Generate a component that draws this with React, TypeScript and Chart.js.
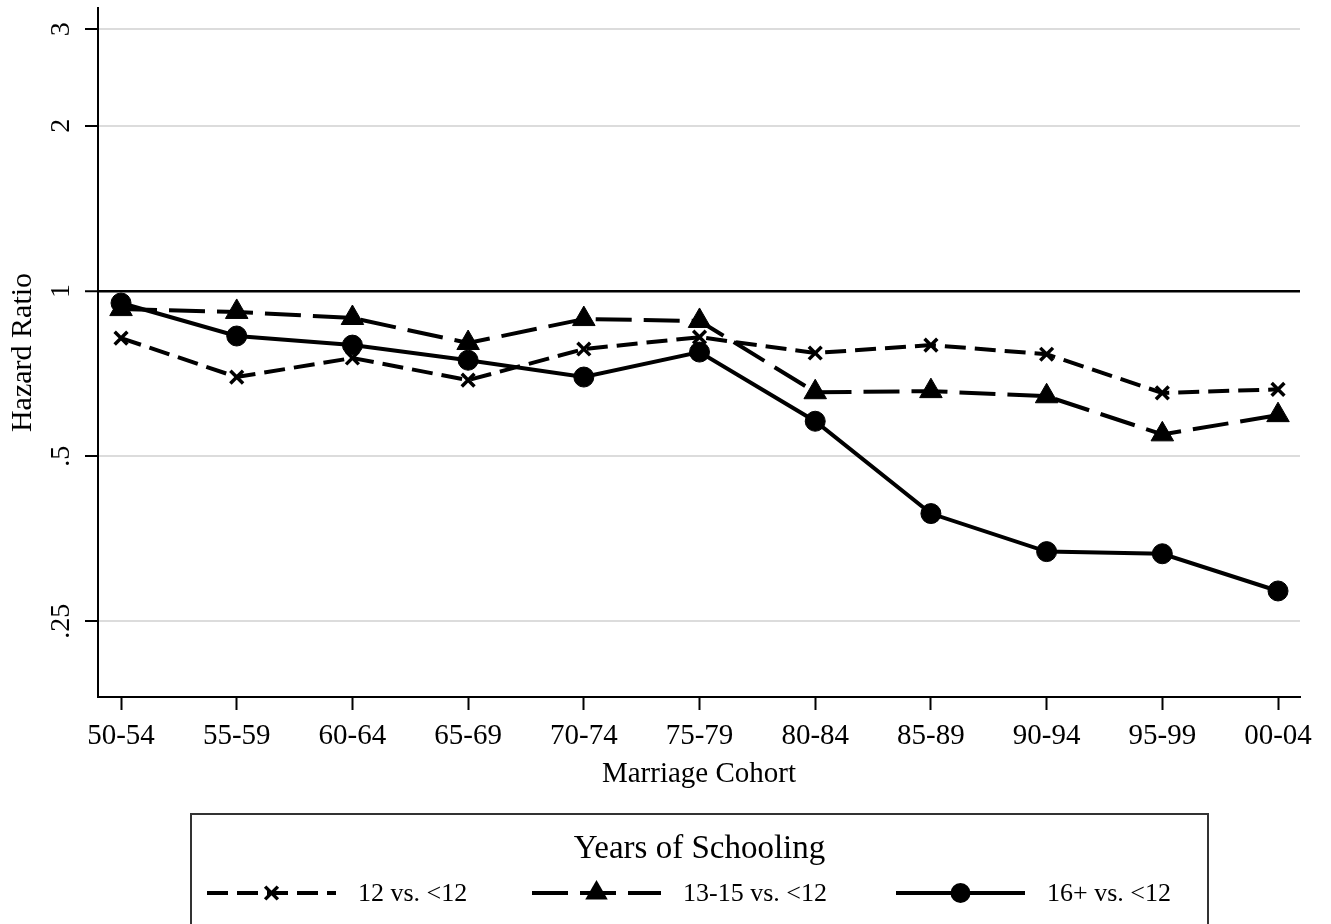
import React, { useEffect, useRef } from 'react';
import { Chart, registerables } from 'chart.js';

Chart.register(...registerables);

const cohorts = ['50-54', '55-59', '60-64', '65-69', '70-74', '75-79', '80-84', '85-89', '90-94', '95-99', '00-04'];
const ratio12 = [0.821, 0.697, 0.755, 0.688, 0.784, 0.824, 0.771, 0.797, 0.767, 0.652, 0.662];
const ratio1315 = [0.927, 0.916, 0.893, 0.804, 0.889, 0.882, 0.654, 0.657, 0.643, 0.548, 0.594];
const ratio16 = [0.951, 0.828, 0.797, 0.748, 0.697, 0.774, 0.579, 0.393, 0.335, 0.332, 0.284];
const yTicks = [0.25, 0.5, 1, 2, 3];
const yTickLabels = ['.25', '.5', '1', '2', '3'];
const seriesLabels = ['12 vs. <12', '13-15 vs. <12', '16+ vs. <12'];
const legendTitle = 'Years of Schooling';

const FONT = "'Liberation Serif', 'Times New Roman', serif";

function drawMarker(ctx: CanvasRenderingContext2D, style: string, x: number, y: number, r: number, bw: number) {
  ctx.save();
  ctx.setLineDash([]);
  ctx.fillStyle = '#000';
  ctx.strokeStyle = '#000';
  ctx.lineWidth = bw;
  ctx.beginPath();
  if (style === 'circle') {
    ctx.arc(x, y, r, 0, Math.PI * 2);
    ctx.fill();
  } else if (style === 'triangle') {
    for (let k = 0; k < 3; k++) {
      const a = k * (2 * Math.PI / 3);
      const px = x + Math.sin(a) * r;
      const py = y - Math.cos(a) * r;
      if (k === 0) ctx.moveTo(px, py); else ctx.lineTo(px, py);
    }
    ctx.closePath();
    ctx.fill();
  } else {
    const o = Math.cos(Math.PI / 4) * r;
    ctx.moveTo(x - o, y - o);
    ctx.lineTo(x + o, y + o);
    ctx.moveTo(x + o, y - o);
    ctx.lineTo(x - o, y + o);
    ctx.stroke();
  }
  ctx.restore();
}

const yLabelPlugin = {
  id: 'yLabels',
  afterDraw(chart: any) {
    const ctx = chart.ctx as CanvasRenderingContext2D;
    const ys = chart.scales.y;
    ctx.save();
    ctx.fillStyle = '#000';
    ctx.font = `28px ${FONT}`;
    ctx.textAlign = 'center';
    ctx.textBaseline = 'middle';
    yTicks.forEach((v, i) => {
      const py = ys.getPixelForValue(v);
      ctx.save();
      ctx.translate(ys.left + 62, py);
      ctx.rotate(-Math.PI / 2);
      ctx.fillText(yTickLabels[i], 0, 0);
      ctx.restore();
    });
    ctx.restore();
  },
};

const legendPlugin = {
  id: 'boxLegend',
  afterDraw(chart: any) {
    const ctx = chart.ctx as CanvasRenderingContext2D;
    const left = 191, right = 1208, top = 814;
    ctx.save();
    ctx.strokeStyle = '#333';
    ctx.lineWidth = 2;
    ctx.strokeRect(left, top, right - left, 140);
    ctx.fillStyle = '#000';
    ctx.font = `33px ${FONT}`;
    ctx.textAlign = 'center';
    ctx.textBaseline = 'middle';
    ctx.fillText(legendTitle, (left + right) / 2, 849);
    const rowY = 893;
    const lineStarts = [207, 532, 896];
    const lineLen = 129;
    chart.data.datasets.forEach((ds: any, i: number) => {
      const x0 = lineStarts[i];
      ctx.save();
      ctx.strokeStyle = '#000';
      ctx.lineWidth = ds.borderWidth;
      ctx.setLineDash(ds.borderDash || []);
      ctx.beginPath();
      ctx.moveTo(x0, rowY);
      ctx.lineTo(x0 + lineLen, rowY);
      ctx.stroke();
      ctx.restore();
      drawMarker(ctx, ds.pointStyle, x0 + lineLen / 2, rowY, ds.pointRadius, ds.pointBorderWidth);
      ctx.fillStyle = '#000';
      ctx.font = `26px ${FONT}`;
      ctx.textAlign = 'left';
      ctx.textBaseline = 'middle';
      ctx.fillText(seriesLabels[i], x0 + lineLen + 22, rowY + 1);
    });
    ctx.restore();
  },
};

export default function App() {
  const ref = useRef<HTMLCanvasElement | null>(null);
  useEffect(() => {
    if (!ref.current) return;
    const toPts = (arr: number[]) => arr.map((v, i) => ({ x: i, y: v }));
    const chart = new Chart(ref.current, {
      type: 'line',
      data: {
        datasets: [
          {
            label: seriesLabels[0],
            data: toPts(ratio12),
            borderColor: '#000',
            backgroundColor: '#000',
            borderWidth: 4,
            borderDash: [21, 9],
            pointStyle: 'crossRot',
            pointRadius: 9,
            pointBorderWidth: 3.5,
            pointBorderColor: '#000',
            pointBackgroundColor: '#000',
            tension: 0,
            fill: false,
            order: 3,
          },
          {
            label: seriesLabels[1],
            data: toPts(ratio1315),
            borderColor: '#000',
            backgroundColor: '#000',
            borderWidth: 4,
            borderDash: [36, 12],
            pointStyle: 'triangle',
            pointRadius: 13,
            pointBorderWidth: 1,
            pointBorderColor: '#000',
            pointBackgroundColor: '#000',
            tension: 0,
            fill: false,
            order: 2,
          },
          {
            label: seriesLabels[2],
            data: toPts(ratio16),
            borderColor: '#000',
            backgroundColor: '#000',
            borderWidth: 4,
            borderDash: [],
            pointStyle: 'circle',
            pointRadius: 10,
            pointBorderWidth: 1,
            pointBorderColor: '#000',
            pointBackgroundColor: '#000',
            tension: 0,
            fill: false,
            order: 1,
          },
        ] as any,
      },
      options: {
        animation: false,
        responsive: false,
        devicePixelRatio: 1,
        layout: { autoPadding: false, padding: { top: 8, right: 31, bottom: 127, left: 0 } },
        plugins: {
          legend: { display: false },
          tooltip: { enabled: false },
        },
        scales: {
          x: {
            type: 'linear',
            min: -0.199,
            max: 10.19,
            afterBuildTicks: (s: any) => {
              s.ticks = cohorts.map((_, i) => ({ value: i }));
            },
            afterFit: (s: any) => {
              s.height = 100;
            },
            ticks: {
              autoSkip: false,
              maxRotation: 0,
              minRotation: 0,
              padding: 9,
              color: '#000',
              font: { family: FONT, size: 29 },
              callback: (v: any) => cohorts[Math.round(Number(v))] ?? '',
            },
            grid: {
              drawOnChartArea: false,
              drawTicks: true,
              tickLength: 13,
              tickColor: '#000',
              tickWidth: 2,
            },
            border: { display: true, color: '#000', width: 2 },
            title: {
              display: true,
              text: 'Marriage Cohort',
              color: '#000',
              font: { family: FONT, size: 29 },
              padding: { top: 0, bottom: 5 },
            },
          },
          y: {
            type: 'logarithmic',
            min: 0.182,
            max: 3.28,
            afterBuildTicks: (s: any) => {
              s.ticks = yTicks.map((v) => ({ value: v }));
            },
            afterFit: (s: any) => {
              s.width = 98;
            },
            ticks: { display: false },
            grid: {
              color: (c: any) => (c.tick && c.tick.value === 1 ? '#000' : '#dcdcdc'),
              lineWidth: (c: any) => (c.tick && c.tick.value === 1 ? 2.5 : 2),
              drawTicks: true,
              tickLength: 13,
              tickColor: '#000',
              tickWidth: 2,
            },
            border: { display: true, color: '#000', width: 2 },
            title: {
              display: true,
              text: 'Hazard Ratio',
              color: '#000',
              font: { family: FONT, size: 30 },
              padding: { top: 5, bottom: 0 },
            },
          },
        },
      } as any,
      plugins: [yLabelPlugin, legendPlugin],
    });
    return () => chart.destroy();
  }, []);
  return (
    <div style={{ position: 'absolute', left: 0, top: 0, width: 1331, height: 924, background: '#fff' }}>
      <canvas ref={ref} width={1331} height={924} style={{ display: 'block' }} />
    </div>
  );
}
